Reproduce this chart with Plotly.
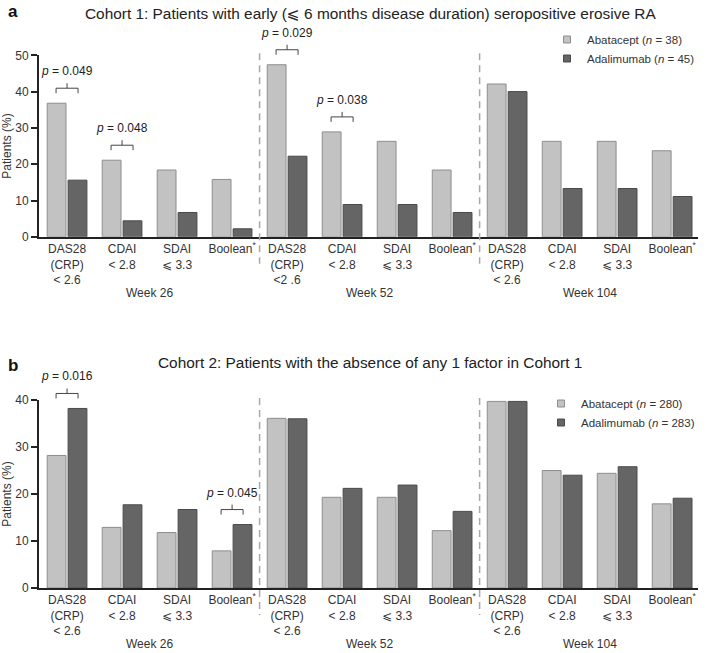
import plotly.graph_objects as go

# ---------------- data ----------------
criteria = ["DAS28<br>(CRP)<br>&lt; 2.6", "CDAI<br>&lt; 2.8", "SDAI<br>⩽ 3.3", "Boolean<sup>*</sup>"]
criteria_a_w52 = ["DAS28<br>(CRP)<br>&lt;2 .6", "CDAI<br>&lt; 2.8", "SDAI<br>⩽ 3.3", "Boolean<sup>*</sup>"]
weeks = ["Week 26", "Week 52", "Week 104"]

ticklabels_a = criteria + criteria_a_w52 + criteria
ticklabels_b = criteria + criteria + criteria

abatacept_a = [36.8, 21.1, 18.4, 15.8, 47.4, 28.9, 26.3, 18.4, 42.1, 26.3, 26.3, 23.7]
adalimumab_a = [15.6, 4.4, 6.7, 2.2, 22.2, 8.9, 8.9, 6.7, 40.0, 13.3, 13.3, 11.1]
abatacept_b = [28.2, 12.9, 11.8, 7.9, 36.1, 19.3, 19.3, 12.2, 39.7, 25.0, 24.4, 17.9]
adalimumab_b = [38.2, 17.7, 16.7, 13.5, 36.0, 21.2, 21.9, 16.3, 39.7, 24.0, 25.8, 19.1]

pvals_a = [(0, "0.049"), (1, "0.048"), (4, "0.029"), (5, "0.038")]
pvals_b = [(0, "0.016"), (3, "0.045")]

names_a = ["Abatacept (<i>n</i> = 38)", "Adalimumab (<i>n</i> = 45)"]
names_b = ["Abatacept (<i>n</i> = 280)", "Adalimumab (<i>n</i> = 283)"]

title_a = "Cohort 1: Patients with early (⩽ 6 months disease duration) seropositive erosive RA"
title_b = "Cohort 2: Patients with the absence of any 1 factor in Cohort 1"

# ---------------- styling ----------------
W, H = 708, 653
FONT = "Liberation Sans, Arial, DejaVu Sans, sans-serif"
TXT = "#333333"
LIGHT, LIGHT_LINE = "#c2c2c2", "#8e8e8e"
DARK, DARK_LINE = "#656565", "#4a4a4a"

x_pos = list(range(len(abatacept_a)))
xdom = [39 / W, 698 / W]
xrange_ = [-0.51, 11.47]

panels = {
    "a": dict(top=55.3, bottom=236.8, ymax=50, ab=abatacept_a, ad=adalimumab_a,
              xa="x", ya="y", ticks=ticklabels_a, names=names_a, legend="legend",
              pvals=pvals_a),
    "b": dict(top=400, bottom=588, ymax=40, ab=abatacept_b, ad=adalimumab_b,
              xa="x2", ya="y2", ticks=ticklabels_b, names=names_b, legend="legend2",
              pvals=pvals_b),
}


def px2paper(px):
    return 1 - px / H


def val2px(p, v):
    return p["bottom"] - (p["bottom"] - p["top"]) * v / p["ymax"]


fig = go.Figure()
shapes = []
annotations = []

for key, p in panels.items():
    fig.add_trace(go.Bar(x=x_pos, y=p["ab"], xaxis=p["xa"], yaxis=p["ya"],
                         marker=dict(color=LIGHT, line=dict(color=LIGHT_LINE, width=1)),
                         showlegend=False, name="Abatacept"))
    fig.add_trace(go.Bar(x=x_pos, y=p["ad"], xaxis=p["xa"], yaxis=p["ya"],
                         marker=dict(color=DARK, line=dict(color=DARK_LINE, width=1)),
                         showlegend=False, name="Adalimumab"))
    # legend entries
    for nm, c, lc in [(p["names"][0], LIGHT, LIGHT_LINE), (p["names"][1], DARK, DARK_LINE)]:
        fig.add_trace(go.Scatter(x=[None], y=[None], mode="markers", name=nm,
                                 xaxis=p["xa"], yaxis=p["ya"], legend=p["legend"],
                                 marker=dict(symbol="square", size=7, color=c,
                                             line=dict(color=lc, width=1))))
    # separators
    for sx in [3.5, 7.5]:
        shapes.append(dict(type="line", xref=p["xa"], yref="paper", x0=sx, x1=sx,
                           y0=px2paper(p["top"] - 2), y1=px2paper(p["bottom"] + 27),
                           line=dict(color="#a8a8a8", width=1.5, dash="7px,5px")))
    # week labels
    for wi, wk in enumerate(weeks):
        annotations.append(dict(text=wk, x=4 * wi + 1.5, xref=p["xa"], yref="paper",
                                y=px2paper(p["bottom"] + 56), showarrow=False,
                                font=dict(size=12, color=TXT, family=FONT),
                                xanchor="center", yanchor="middle"))
    # p-value brackets
    for gi, pv in p["pvals"]:
        top_px = val2px(p, max(p["ab"][gi], p["ad"][gi]))
        yh = top_px - 15
        x0, x1 = gi - 0.2, gi + 0.2
        path = (f"M{x0},{px2paper(yh + 5)} L{x0},{px2paper(yh)} L{x1},{px2paper(yh)} "
                f"L{x1},{px2paper(yh + 5)} M{gi},{px2paper(yh)} L{gi},{px2paper(yh - 5)}")
        shapes.append(dict(type="path", xref=p["xa"], yref="paper", path=path,
                           line=dict(color="#444444", width=1)))
        annotations.append(dict(text=f"<i>p</i> = {pv}", x=gi, xref=p["xa"], yref="paper",
                                y=px2paper(yh - 17), showarrow=False,
                                font=dict(size=12, color="#222222", family=FONT),
                                xanchor="center", yanchor="middle"))

# titles and panel letters
annotations += [
    dict(text=title_a, x=370 / W, y=px2paper(14), xref="paper", yref="paper", showarrow=False,
         font=dict(size=15.4, color="#222222", family=FONT), xanchor="center", yanchor="middle"),
    dict(text=title_b, x=370 / W, y=px2paper(362), xref="paper", yref="paper", showarrow=False,
         font=dict(size=15.4, color="#222222", family=FONT), xanchor="center", yanchor="middle"),
    dict(text="<b>a</b>", x=13 / W, y=px2paper(12), xref="paper", yref="paper", showarrow=False,
         font=dict(size=17, color="#111111", family=FONT), xanchor="center", yanchor="middle"),
    dict(text="<b>b</b>", x=13 / W, y=px2paper(365), xref="paper", yref="paper", showarrow=False,
         font=dict(size=17, color="#111111", family=FONT), xanchor="center", yanchor="middle"),
]

common_x = dict(range=xrange_, domain=xdom, showgrid=False, zeroline=False, showline=True,
                linecolor="#222222", linewidth=1.5, ticks="", tickmode="array",
                tickvals=x_pos, tickfont=dict(size=12, color=TXT, family=FONT),
                automargin=False, fixedrange=True)
common_y = dict(showgrid=False, zeroline=False, showline=True, linecolor="#222222",
                linewidth=2, ticks="outside", ticklen=6, tickwidth=1.5, tickcolor="#222222",
                tickfont=dict(size=12, color=TXT, family=FONT), automargin=False,
                fixedrange=True,
                title=dict(text="Patients (%)", font=dict(size=12, color=TXT, family=FONT)))

pa, pb = panels["a"], panels["b"]
fig.update_layout(
    width=W, height=H, autosize=False,
    margin=dict(l=0, r=0, t=0, b=0),
    paper_bgcolor="white", plot_bgcolor="white",
    font=dict(family=FONT, color=TXT),
    bargap=0.24, bargroupgap=0.1, barmode="group",
    hovermode=False,
    xaxis=dict(common_x, anchor="y", ticktext=ticklabels_a),
    yaxis=dict(common_y, anchor="x", domain=[px2paper(pa["bottom"]), px2paper(pa["top"])],
               range=[0, pa["ymax"]], tickvals=[0, 10, 20, 30, 40, 50]),
    xaxis2=dict(common_x, anchor="y2", ticktext=ticklabels_b),
    yaxis2=dict(common_y, anchor="x2", domain=[px2paper(pb["bottom"]), px2paper(pb["top"])],
                range=[0, pb["ymax"]], tickvals=[0, 10, 20, 30, 40]),
    legend=dict(x=700 / W, xanchor="right", y=px2paper(25), yanchor="top",
                font=dict(size=11.5, color=TXT, family=FONT), bgcolor="rgba(0,0,0,0)",
                tracegroupgap=0, itemwidth=30),
    legend2=dict(x=700 / W, xanchor="right", y=px2paper(389), yanchor="top",
                 font=dict(size=11.5, color=TXT, family=FONT), bgcolor="rgba(0,0,0,0)",
                 tracegroupgap=0, itemwidth=30),
    shapes=shapes,
    annotations=annotations,
)

fig.write_html("out.html", config={"displayModeBar": False},
               post_script="document.body.style.margin='0px';")
